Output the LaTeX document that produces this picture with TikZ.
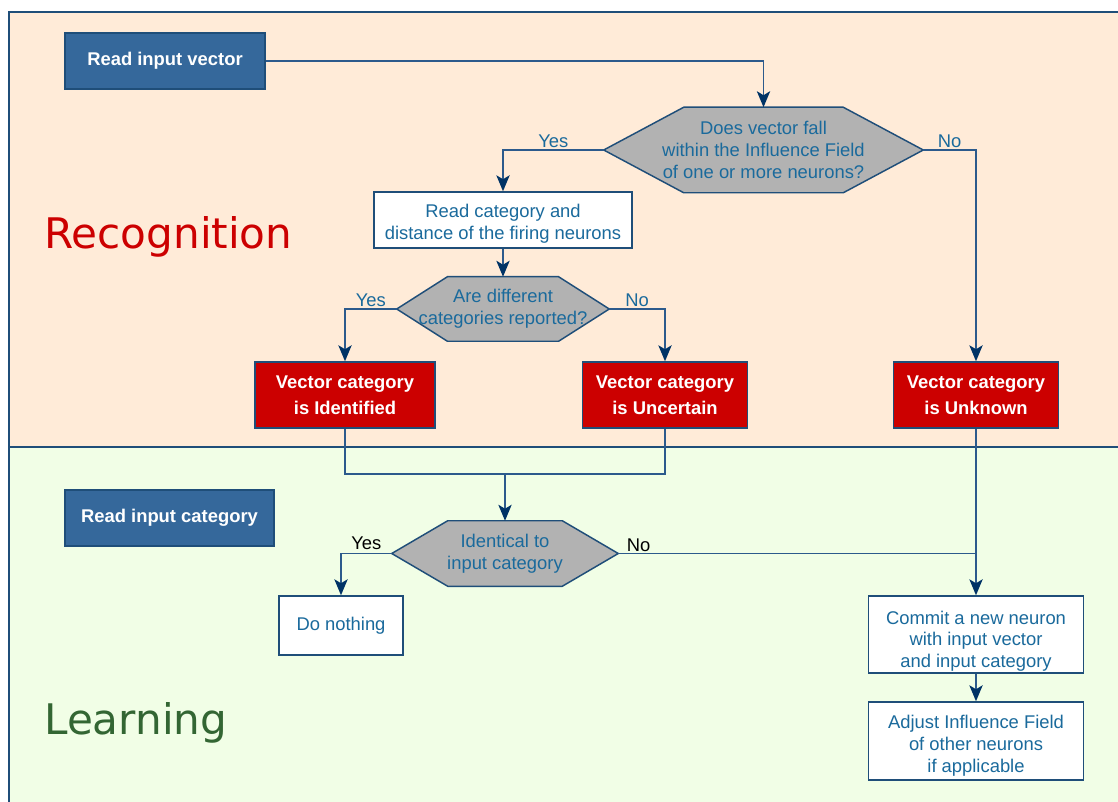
\documentclass[tikz,border=0pt]{standalone}
\usepackage{fontspec}
\setmainfont{Liberation Sans}
\newfontfamily\dejavu{DejaVu Sans}
\usepackage{tikz}
\usetikzlibrary{backgrounds}
\usetikzlibrary{arrows.meta}
\definecolor{peach}{HTML}{FFEBD8}
\definecolor{mint}{HTML}{F1FEE6}
\definecolor{frameblue}{HTML}{1F4E79}
\definecolor{fillblue}{HTML}{35689B}
\definecolor{fillred}{HTML}{CC0000}
\definecolor{hexgray}{HTML}{B2B2B2}
\definecolor{txtblue}{HTML}{1A6A9C}
\definecolor{wireblue}{HTML}{2C5A8C}
\definecolor{tipblue}{HTML}{003366}
\definecolor{leafgreen}{HTML}{336633}

\begin{document}
\begin{tikzpicture}[x=0.75pt, y=-0.75pt,
  every node/.style={inner sep=0pt, align=center, font=\fontsize{13.8}{16.2}\selectfont},
  boxbase/.style={draw=frameblue, line width=1.1pt},
  bluebox/.style={boxbase, fill=fillblue, text=white, font=\fontsize{13.8}{16.2}\selectfont\bfseries, minimum height=42pt},
  redbox/.style={boxbase, fill=fillred, text=white, font=\fontsize{13.8}{19.5}\selectfont\bfseries, minimum width=124pt, minimum height=49.5pt},
  whitebox/.style={boxbase, fill=white, text=txtblue},
  hexbox/.style={text=txtblue},
  hexline/.style={draw=frameblue, line width=1.1pt, fill=hexgray},
  lbl/.style={text=txtblue},
  wire/.style={draw=wireblue, line width=1pt},
  arr/.style={wire, -{Stealth[length=12pt, width=10pt, inset=3pt, color=tipblue]}}]
\useasboundingbox (0,0) rectangle (1118,802);

\node[text=fillred, font=\dejavu\fontsize{31.6}{36}\selectfont, anchor=base west] (Recog) at (44,249) {Recognition};
\node[text=leafgreen, font=\dejavu\fontsize{31.6}{36}\selectfont, anchor=base west] (Learn) at (44,734) {Learning};

\node[bluebox, minimum width=150pt] (RdVec) at (165,61) {Read input vector};
\node[hexbox, minimum width=239.25pt, minimum height=63.75pt] (HxFall) at (763.5,150) {Does vector fall\\within the Influence Field\\of one or more neurons?};
\node[whitebox, minimum width=193.5pt, minimum height=42pt, text height=32pt] (RdCat) at (503,220) {Read category and\\distance of the firing neurons};
\node[hexbox, minimum width=159pt, minimum height=48pt] (HxDiff) at (503,309) {Are different\\categories reported?};
\node[redbox, minimum width=135pt] (VcIdent) at (345,395) {Vector category\\is Identified};
\node[redbox] (VcUncert) at (665,395) {Vector category\\is Uncertain};
\node[redbox] (VcUnknown) at (976,395) {Vector category\\is Unknown};
\node[bluebox, minimum width=156.75pt] (RdCatIn) at (169.5,518) {Read input category};
\node[hexbox, minimum width=169.5pt, minimum height=48.75pt] (HxIdent) at (505,553.5) {Identical to\\input category};
\node[whitebox, minimum width=93pt, minimum height=44.25pt] (DoNot) at (341,625.5) {Do nothing};
\node[whitebox, minimum width=161.25pt, minimum height=57.75pt, text height=52.5pt] (Commit) at (976,634.5) {Commit a new neuron\\with input vector\\and input category};
\node[whitebox, minimum width=161.25pt, minimum height=58.5pt, text height=49.5pt] (Adjust) at (976,741) {Adjust Influence Field\\of other neurons\\if applicable};
\coordinate (Mrg) at (505,474);

\begin{scope}[on background layer]
\fill[peach] (9,12) rectangle (1125,447);
\fill[mint] (9,447) rectangle (1125,810);
\draw[frameblue, line width=1pt] (1125,12) -- (9,12) -- (9,810);
\draw[frameblue, line width=1pt] (9,447) -- (1125,447);
\filldraw[hexline] (HxFall.west) -- ([xshift=60pt]HxFall.north west) -- ([xshift=-60pt]HxFall.north east) -- (HxFall.east) -- ([xshift=-60pt]HxFall.south east) -- ([xshift=60pt]HxFall.south west) -- cycle;
\filldraw[hexline] (HxDiff.west) -- ([xshift=38pt]HxDiff.north west) -- ([xshift=-38pt]HxDiff.north east) -- (HxDiff.east) -- ([xshift=-38pt]HxDiff.south east) -- ([xshift=38pt]HxDiff.south west) -- cycle;
\filldraw[hexline] (HxIdent.west) -- ([xshift=42pt]HxIdent.north west) -- ([xshift=-42pt]HxIdent.north east) -- (HxIdent.east) -- ([xshift=-42pt]HxIdent.south east) -- ([xshift=42pt]HxIdent.south west) -- cycle;
\end{scope}

\draw[arr] (RdVec.east) -| (HxFall.north);
\draw[arr] (HxFall.west) -| (RdCat.north) node[lbl, above, pos=0.25, yshift=1.5pt] (YsA) {Yes};
\draw[arr] (HxFall.east) -| (VcUnknown.north) node[lbl, above, pos=0.25, yshift=1.5pt] (NoA) {No};
\draw[arr] (RdCat.south) -- (HxDiff.north);
\draw[arr] (HxDiff.west) -| (VcIdent.north) node[lbl, above, pos=0.25, yshift=1.5pt] (YsB) {Yes};
\draw[arr] (HxDiff.east) -| (VcUncert.north) node[lbl, above, pos=0.25, yshift=1.5pt] (NoB) {No};
\draw[wire] (VcIdent.south) |- (Mrg) -| (VcUncert.south);
\draw[arr] (Mrg) -- (HxIdent.north);
\draw[arr] (HxIdent.west) -| (DoNot.north) node[above, pos=0.25, yshift=2pt] (YsC) {Yes};
\draw[wire] (HxIdent.east) -- (HxIdent.east -| VcUnknown) node[above right, pos=0, xshift=6pt, yshift=1pt] (NoC) {No};
\draw[arr] (VcUnknown.south) -- (Commit.north);
\draw[arr] (Commit.south) -- (Adjust.north);
\end{tikzpicture}
\end{document}
